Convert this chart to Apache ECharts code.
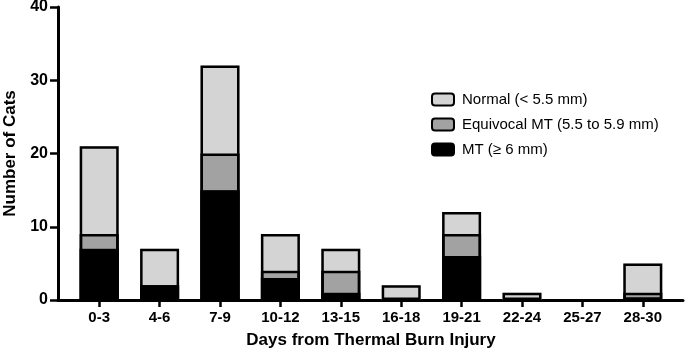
<!DOCTYPE html>
<html><head><meta charset="utf-8">
<script src="https://cdn.jsdelivr.net/npm/echarts@6/dist/echarts.min.js"></script>
<style>html,body{margin:0;padding:0;background:#fff}#c{width:685px;height:353px}</style>
</head><body><div id="c"></div>
<script>
const categories = ['0-3','4-6','7-9','10-12','13-15','16-18','19-21','22-24','25-27','28-30'];
const mtValues = [7, 2, 15, 3, 1, 0, 6, 0, 0, 0];
const equivocalValues = [2, 0, 5, 1, 3, 0, 3, 0, 0, 1];
const normalValues = [12, 5, 12, 5, 3, 2, 3, 1, 0, 4];
const yTicks = [0, 10, 20, 30, 40];

const FONT = "'Liberation Sans', Arial, Helvetica, sans-serif";
const chart = echarts.init(document.getElementById('c'));
const nz = (arr) => arr.map(v => (v === 0 ? null : v));
// cumulative levels used only to draw the black segment outlines
const cumMt = mtValues.slice();
const cumEq = mtValues.map((v, i) => v + equivocalValues[i]);
const cumAll = cumEq.map((v, i) => v + normalValues[i]);
const BW = 39;
const fillSeries = (name, data, color) => ({
  name, type: 'bar', stack: 's', barWidth: BW, barGap: '-100%', data: nz(data),
  itemStyle: { color, borderWidth: 0 }
});
const outlineSeries = (name, data) => ({
  name, type: 'bar', barWidth: BW, barGap: '-100%', data: nz(data), silent: true,
  itemStyle: { color: 'rgba(0,0,0,0)', borderColor: '#000', borderWidth: 2.5 }
});
chart.setOption({
  animation: false,
  textStyle: { fontFamily: FONT },
  grid: [
    { left: 69, right: 12, top: 7, bottom: 53, containLabel: false, outerBoundsMode: 'none' },
    { left: 58, right: 2, top: 7, bottom: 53, containLabel: false, outerBoundsMode: 'none' }
  ],
  legend: {
    orient: 'vertical', left: 426, top: 87, itemWidth: 22, itemHeight: 12, itemGap: 10,
    data: ['Normal (< 5.5 mm)', 'Equivocal MT (5.5 to 5.9 mm)', 'MT (≥ 6 mm)'],
    itemStyle: { borderColor: '#000', borderWidth: 2 },
    textStyle: { fontFamily: FONT, fontSize: 15, lineHeight: 15, color: '#000', padding: [0, 0, 0, 3] }
  },
  xAxis: [
    {
      type: 'category', gridIndex: 0, data: categories,
      axisLine: { show: false },
      axisTick: { show: true, alignWithLabel: true, length: 7, lineStyle: { color: '#000', width: 2.5 } },
      axisLabel: { fontFamily: FONT, fontWeight: 'bold', fontSize: 15, color: '#000', margin: 10, interval: 0 },
      name: 'Days from Thermal Burn Injury', nameLocation: 'middle', nameGap: 32,
      nameTextStyle: { fontFamily: FONT, fontWeight: 'bold', fontSize: 17, color: '#000' }
    },
    {
      type: 'value', gridIndex: 1, min: 0, max: 1,
      axisLine: { show: true, lineStyle: { color: '#000', width: 3 } },
      axisTick: { show: false }, axisLabel: { show: false }, splitLine: { show: false }
    }
  ],
  yAxis: [
    { type: 'value', gridIndex: 0, min: 0, max: 40, interval: 10, show: false, splitLine: { show: false } },
    {
      type: 'value', gridIndex: 1, min: yTicks[0], max: yTicks[yTicks.length - 1], interval: 10,
      axisLine: { show: true, lineStyle: { color: '#000', width: 3 } },
      axisTick: { show: true, length: 8, lineStyle: { color: '#000', width: 2.5 } },
      axisLabel: { fontFamily: FONT, fontWeight: 'bold', fontSize: 16, color: '#000', margin: 10 },
      splitLine: { show: false },
      name: 'Number of Cats', nameLocation: 'middle', nameGap: 37,
      nameTextStyle: { fontFamily: FONT, fontWeight: 'bold', fontSize: 17, color: '#000' }
    }
  ],
  series: [
    fillSeries('MT (≥ 6 mm)', mtValues, '#000000'),
    fillSeries('Equivocal MT (5.5 to 5.9 mm)', equivocalValues, '#a2a2a2'),
    fillSeries('Normal (< 5.5 mm)', normalValues, '#d4d4d4'),
    outlineSeries('outline-mt', cumMt),
    outlineSeries('outline-eq', cumEq),
    outlineSeries('outline-all', cumAll)
  ]
});
</script></body></html>
